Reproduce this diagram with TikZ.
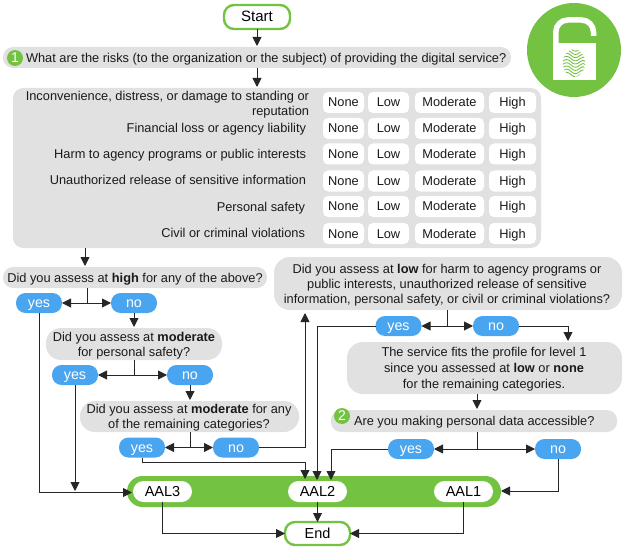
\documentclass[tikz,border=0pt]{standalone}
\usepackage{fontspec}
\setmainfont{Liberation Sans}
\usetikzlibrary{arrows.meta}
\definecolor{grn}{HTML}{74C242}
\definecolor{gry}{HTML}{E1E1E1}
\definecolor{blu}{HTML}{4AA5F0}
\definecolor{ink}{HTML}{1A1A1A}
\tikzset{
  x=1pt,y=-1pt,
  mtxt/.style={font=\fontsize{12.8}{15}\selectfont,text=ink,inner sep=0pt,outer sep=0pt},
  txt/.style={mtxt,text height=11pt,text depth=2pt},
  conn/.style={draw=black!85,line width=0.9pt,-{Triangle[length=9pt,width=9pt]}},
  plainconn/.style={draw=black!85,line width=0.9pt},
  optbox/.style={inner sep=0pt,outer sep=0pt,minimum height=21,rounded corners=5pt,fill=white,txt},
  yn/.style={inner sep=0pt,outer sep=0pt,minimum width=46,minimum height=20,rounded corners=9.5pt,fill=blu,text=white,font=\fontsize{14.3}{16}\selectfont,text height=11pt,text depth=2pt},
  aal/.style={inner sep=0pt,outer sep=0pt,minimum width=59,minimum height=21,rounded corners=10.5pt,fill=white,text=black,font=\fontsize{14.5}{16}\selectfont,text height=11pt,text depth=1pt},
  numc/.style={circle,fill=grn,minimum size=16,inner sep=0pt,text=white,font=\fontsize{14}{15}\selectfont},
}
\newcommand{\rrect}[8]{% name x1 y1 x2 y2 radius style text
  \node[inner sep=0pt,outer sep=0pt,minimum width=#4-#2,minimum height=#5-#3,rounded corners=#6,#7] (#1) at ({(#2+#4)/2},{(#3+#5)/2}) {#8};}
\newcommand{\optrow}[2]{%
  \node[optbox,minimum width=41] (n#1) at (343.5,#2) {None};
  \node[optbox,minimum width=41] (l#1) at (388.5,#2) {Low};
  \node[optbox,minimum width=69] (m#1) at (449.5,#2) {Moderate};
  \node[optbox,minimum width=47] (h#1) at (512.5,#2) {High};
}
\begin{document}
\begin{tikzpicture}
\useasboundingbox (0,0) rectangle (624,559);
% icon
\fill[grn] (574,50) circle (47);
\fill[white] (553,43) rectangle (595.5,80);
\draw[white,line width=5.5pt,rounded corners=12pt] (555.8,45) -- (555.8,20) -- (593.5,20) -- (593.5,36);
% fingerprint
\begin{scope}
\clip (574,63) ellipse (11 and 14);
\foreach \yy in {49,52.2,55.4,58.6,61.8,65,68.2,71.4,74.6,77.8}{
  \draw[grn,line width=0.85pt] (562,\yy) .. controls (565,\yy-3) and (568,\yy-3) .. (571,\yy) .. controls (574,\yy+3) and (577,\yy+3) .. (580,\yy) .. controls (582,\yy-2) and (584,\yy-2) .. (586,\yy);
}
\end{scope}
% start
\rrect{start}{224}{5}{290}{29}{10pt}{draw=grn,line width=2.4pt,fill=white,font=\fontsize{15}{16}\selectfont,text height=11pt,text depth=1pt}{Start}
% q1
\rrect{qone}{3}{47}{511}{68}{10pt}{fill=gry}{}
\node[numc] (cone) at (15,58) {1};
\node[txt,anchor=west] at (26,58) {What are the risks (to the organization or the subject) of providing the digital service?};
% risks
\rrect{risk}{13}{88}{541}{248}{10pt}{fill=gry}{}
\node[mtxt,align=right,anchor=east] at (309,104.5) {Inconvenience, distress, or damage to standing or\\reputation};
\node[txt,anchor=east] at (306,128) {Financial loss or agency liability};
\node[txt,anchor=east] at (306,154) {Harm to agency programs or public interests};
\node[txt,anchor=east] at (306,180) {Unauthorized release of sensitive information};
\node[txt,anchor=east] at (305,207) {Personal safety};
\node[txt,anchor=east] at (305,233) {Civil or criminal violations};
\optrow{a}{102.5}
\optrow{b}{128.5}
\optrow{c}{154}
\optrow{d}{181}
\optrow{e}{206.5}
\optrow{f}{233.5}
% questions
\rrect{qhigh}{3}{267}{267}{288}{10pt}{fill=gry,txt}{Did you assess at \textbf{high} for any of the above?}
\rrect{qmod}{46}{328}{222}{360}{15pt}{fill=gry}{}
\node[mtxt,align=center] (tmod) at (134,346) {Did you assess at \textbf{moderate}\\for personal safety?};
\rrect{qrem}{80}{401}{299}{432}{15pt}{fill=gry}{}
\node[mtxt,align=center] (trem) at (189,418) {Did you assess at \textbf{moderate} for any\\of the remaining categories?};
\rrect{qlow}{274}{257}{622}{310}{16pt}{fill=gry}{}
\node[mtxt,align=center] (tlow) at (447,285.5) {Did you assess at \textbf{low} for harm to agency programs or\\public interests, unauthorized release of sensitive\\information, personal safety, or civil or criminal violations?};
\rrect{qfit}{347}{342}{622}{394}{16pt}{fill=gry}{}
\node[mtxt,align=center,font=\fontsize{12.8}{16}\selectfont] (tfit) at (484,369) {The service fits the profile for level 1\\since you assessed at \textbf{low} or \textbf{none}\\for the remaining categories.};
\rrect{qtwo}{331}{410}{617}{432}{10pt}{fill=gry}{}
\node[numc] (ctwo) at (342,416) {2};
\node[txt,anchor=west] at (354,421) {Are you making personal data accessible?};
% yes/no
\node[yn] (y1) at (39,303) {yes};
\node[yn] (n1) at (134,303) {no};
\node[yn] (y2) at (75,375) {yes};
\node[yn] (n2) at (190,375) {no};
\node[yn] (y3) at (142,447.5) {yes};
\node[yn] (n3) at (236,447.5) {no};
\node[yn] (y4) at (398.5,326) {yes};
\node[yn] (n4) at (496,326) {no};
\node[yn] (y5) at (411,449) {yes};
\node[yn] (n5) at (558,449) {no};
% AAL bar
\rrect{bar}{127}{476}{501}{507}{15.5pt}{fill=grn}{}
\node[aal] (aalc) at (162.5,491.5) {AAL3};
\node[aal] (aalb) at (317.5,491.5) {AAL2};
\node[aal] (aala) at (463.5,491.5) {AAL1};
\rrect{endn}{285}{522}{350}{545}{10pt}{draw=grn,line width=2.4pt,fill=white,font=\fontsize{14.5}{16}\selectfont,text height=11pt,text depth=1pt}{End}
% connectors
\coordinate (j1) at (87,303);
\coordinate (j2) at (134,375);
\coordinate (j3) at (190,447.5);
\coordinate (j4) at (447,326);
\coordinate (j5) at (477,449);
\draw[conn] (start.south) -- (257,46);
\draw[conn] (257,68) -- (257,87);
\draw[conn] (85,248) -- (85,266);
\draw[plainconn] (87,288) -- (j1);
\draw[conn] (j1) -- (y1.east);
\draw[conn] (j1) -- (n1.west);
\draw[conn] (n1.south) -- (134,327);
\draw[plainconn] (134,360) -- (j2);
\draw[conn] (j2) -- (y2.east);
\draw[conn] (j2) -- (n2.west);
\draw[conn] (n2.south) -- (190,400);
\draw[plainconn] (190,432) -- (j3);
\draw[conn] (j3) -- (y3.east);
\draw[conn] (j3) -- (n3.west);
\draw[conn] (n3.east) -- (305,447.5) -- (305,313);
\draw[conn] (y3.south) -- (142,462) -- (305,462) -- (305,479);
\draw[conn] (y1.south) -- (39,492.5) -- (132,492.5);
\draw[conn] (y2.south) -- (75,491);
\draw[plainconn] (447,310) -- (j4);
\draw[conn] (j4) -- (y4.east);
\draw[conn] (j4) -- (n4.west);
\draw[conn] (y4.west) -- (317,326) -- (317,480);
\draw[conn] (n4.east) -- (568,326) -- (568,341);
\draw[conn] (477,394) -- (477,409);
\draw[plainconn] (477,432) -- (j5);
\draw[conn] (j5) -- (y5.east);
\draw[conn] (j5) -- (n5.west);
\draw[conn] (y5.west) -- (331,449) -- (331,480);
\draw[conn] (n5.south) -- (558,491) -- (501,491);
\draw[conn] (aalc.south) -- (162.5,533.5) -- (endn.west);
\draw[conn] (aalb.south) -- (endn.north);
\draw[conn] (aala.south) -- (463.5,533.5) -- (endn.east);
\end{tikzpicture}
\end{document}
